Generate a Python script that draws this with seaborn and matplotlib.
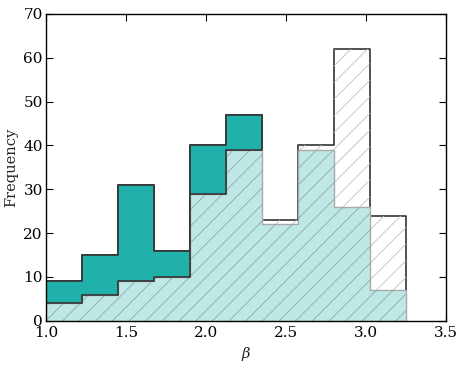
import numpy as np
import matplotlib
matplotlib.use("Agg")
import matplotlib.pyplot as plt
import seaborn as sns

# histogram bins and counts
bin_edges = [1.0, 1.225, 1.45, 1.675, 1.9, 2.125, 2.35, 2.575, 2.8, 3.025, 3.25]
total_counts = [9, 15, 31, 16, 40, 47, 23, 40, 62, 24]
upper_counts = [9, 15, 31, 16, 40, 47]          # dark teal part, first six bins
lower_counts = [4, 6, 9, 10, 29, 39, 22, 39, 26, 7]

x_ticks = [1.0, 1.5, 2.0, 2.5, 3.0, 3.5]
y_ticks = [0, 10, 20, 30, 40, 50, 60, 70]

sns.set_style("ticks")
plt.rcParams.update({
    "font.family": ["DejaVu Serif"],
    "mathtext.fontset": "dejavuserif",
    "font.size": 10.5,
    "xtick.labelsize": 11,
    "ytick.labelsize": 11,
    "xtick.direction": "in",
    "ytick.direction": "in",
    "xtick.top": True,
    "ytick.right": True,
    "xtick.major.size": 5,
    "ytick.major.size": 5,
    "ytick.major.pad": 2.5,
    "xtick.major.pad": 3.5,
    "axes.edgecolor": "black",
    "axes.linewidth": 1.0,
    "hatch.linewidth": 0.6,
    "xtick.color": "black",
    "ytick.color": "black",
})

edges = np.array(bin_edges)
centers = list((edges[:-1] + edges[1:]) / 2)

fig = plt.figure(figsize=(4.64, 3.65), dpi=100)
ax = fig.add_axes([0.1, 0.121, 0.862, 0.841])

dark = "#333333"

# outer white histogram
sns.histplot(x=centers, weights=total_counts, bins=bin_edges, element="step", fill=True,
             color="white", facecolor="white", edgecolor=dark, linewidth=1.2, alpha=1, ax=ax)
sns.histplot(x=centers, weights=total_counts, bins=bin_edges, element="step", fill=True,
             color="#c0c0c0", facecolor="none", edgecolor="#c0c0c0", linewidth=0, hatch="//", ax=ax)

# dark teal part
sns.histplot(x=centers[:6], weights=upper_counts, bins=bin_edges[:7], element="step", fill=True,
             color="#20b2aa", facecolor="#20b2aa", edgecolor=dark, linewidth=1.2, alpha=1, ax=ax)

# light teal hatched part
sns.histplot(x=centers, weights=lower_counts, bins=bin_edges, element="step", fill=True,
             color="#bee8e5", facecolor="#bee8e5", edgecolor="#aaaaaa", linewidth=1.0, alpha=1, ax=ax)
sns.histplot(x=centers, weights=lower_counts, bins=bin_edges, element="step", fill=True,
             color="#8fa8a6", facecolor="none", edgecolor="#8fa8a6", linewidth=0, hatch="//", ax=ax)
sns.histplot(x=centers[:6], weights=lower_counts[:6], bins=bin_edges[:7], element="step",
             fill=False, color=dark, linewidth=1.2, ax=ax)

ax.set_xlim(1.0, 3.5)
ax.set_ylim(0, 70)
ax.set_xticks(x_ticks)
ax.set_yticks(y_ticks)
ax.set_xlabel(r"$\beta$")
ax.set_ylabel("Frequency")
for s in ax.spines.values():
    s.set_visible(True)

fig.savefig("out.png", dpi=100)
